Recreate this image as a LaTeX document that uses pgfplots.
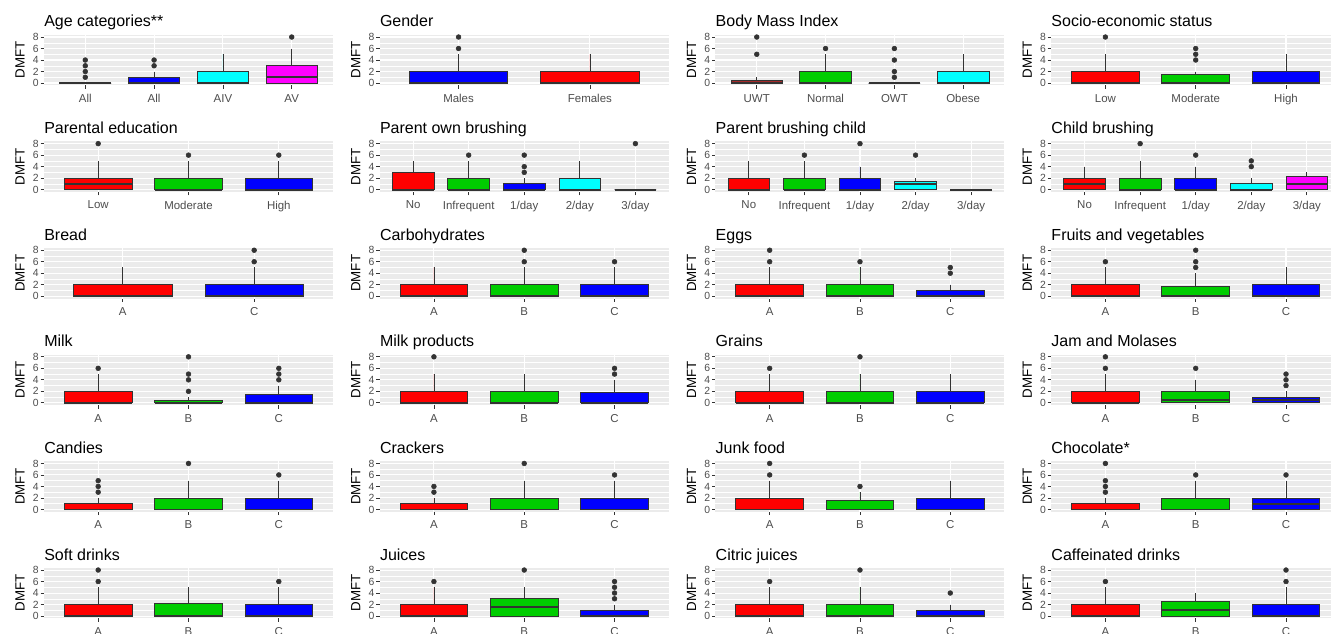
\documentclass[border=0pt]{standalone}
\usepackage{fontspec}
\setmainfont{Liberation Sans}
\usepackage{pgfplots}
\pgfplotsset{compat=1.18}
\usepgfplotslibrary{statistics}
\definecolor{gg20}{HTML}{333333}
\definecolor{gg30}{HTML}{4D4D4D}
\definecolor{ggbg}{HTML}{EBEBEB}
\definecolor{ggred}{HTML}{FF0000}
\definecolor{ggblue}{HTML}{0000FF}
\definecolor{ggcyan}{HTML}{00FFFF}
\definecolor{ggmag}{HTML}{FF00FF}
\definecolor{gggreen}{HTML}{00CD00}
\definecolor{ggbrown}{HTML}{A52A2A}
\pgfplotsset{gg/.style={
  scale only axis, width=216.75pt, height=37.95pt,
  anchor=south west,
  xmin=0.4, ymin=-0.4, ymax=8.4,
  ytick={0,2,4,6,8}, minor ytick={1,3,5,7},
  grid=both,
  major grid style={white, line width=0.8pt},
  minor grid style={white, line width=0.4pt},
  axis background/.style={fill=ggbg},
  axis line style={draw=none},
  tick pos=left, tick align=outside,
  major tick length=2.6pt, minor tick length=0pt,
  tick style={gg20, line width=0.6pt},
  /pgf/number format/assume math mode=true,
  yticklabel style={font=\fontsize{7.8}{8}\selectfont, text=gg30, inner sep=1.2pt},
  xticklabel style={font=\fontsize{8.6}{10}\selectfont, text=gg30, inner sep=1.5pt, yshift=-2.5pt},
  every axis title/.style={at={(0,1)}, anchor=base west, yshift=5.8pt, inner xsep=0pt, font=\fontsize{12}{14}\selectfont},
  ylabel=DMFT,
  every axis y label/.style={at={(axis description cs:-0.083,0.5)}, rotate=90, anchor=center, font=\fontsize{10}{12}\selectfont},
  boxplot/draw direction=y,
  boxplot/box extend=0.75,
  boxplot/whisker extend=0,
  boxplot/every median/.style={line width=1.4pt},
}}
\newcommand{\panel}[6]{%
\begin{axis}[gg, at={(33pt+251.8pt*#1,-64pt-79.95pt*#2)}, title={#3}, xmax=#4.6, xtick={1,...,#4}, xticklabels={#5}]
#6
\end{axis}}
\newcommand{\bx}[6]{\addplot[draw=gg20, line width=0.6pt, fill=#2, boxplot prepared={draw position=#1, lower whisker=0, lower quartile=#3, median=#4, upper quartile=#5, upper whisker=#6}] coordinates {};}
\newcommand{\ol}[1]{\addplot[only marks, mark=*, mark size=1.8pt, color=gg20] coordinates {#1};}
\begin{document}
\begin{tikzpicture}
% Row 0
\panel{0}{0}{Age categories**}{4}{All,All,AIV,AV}{
\bx{1}{ggred}{0}{0}{0}{0} \ol{(1,1)(1,2)(1,3)(1,4)}
\bx{2}{ggblue}{0}{0}{1}{2} \ol{(2,3)(2,4)}
\bx{3}{ggcyan}{0}{0}{2}{5}
\bx{4}{ggmag}{0}{1}{3}{6} \ol{(4,8)}
}
\panel{1}{0}{Gender}{2}{Males,Females}{
\bx{1}{ggblue}{0}{0}{2}{5} \ol{(1,6)(1,8)}
\bx{2}{ggred}{0}{0}{2}{5}
}
\panel{2}{0}{Body Mass Index}{4}{UWT,Normal,OWT,Obese}{
\bx{1}{ggbrown}{0}{0}{0.5}{1} \ol{(1,5)(1,8)}
\bx{2}{gggreen}{0}{0}{2}{5} \ol{(2,6)}
\bx{3}{ggblue}{0}{0}{0}{0} \ol{(3,1)(3,2)(3,4)(3,6)}
\bx{4}{ggcyan}{0}{0}{2}{5}
}
\panel{3}{0}{Socio-economic status}{3}{Low,Moderate,High}{
\bx{1}{ggred}{0}{0}{2}{5} \ol{(1,8)}
\bx{2}{gggreen}{0}{0}{1.5}{2} \ol{(2,4)(2,5)(2,6)}
\bx{3}{ggblue}{0}{0}{2}{5}
}
% Row 1
\panel{0}{1}{Parental education}{3}{Low,Moderate,High}{
\bx{1}{ggred}{0}{1}{2}{5} \ol{(1,8)}
\bx{2}{gggreen}{0}{0}{2}{5} \ol{(2,6)}
\bx{3}{ggblue}{0}{0}{2}{5} \ol{(3,6)}
}
\panel{1}{1}{Parent own brushing}{5}{No,Infrequent,1/day,2/day,3/day}{
\bx{1}{ggred}{0}{0}{3}{5}
\bx{2}{gggreen}{0}{0}{2}{5} \ol{(2,6)}
\bx{3}{ggblue}{0}{0}{1}{2} \ol{(3,3)(3,4)(3,6)}
\bx{4}{ggcyan}{0}{0}{2}{5}
\bx{5}{ggmag}{0}{0}{0}{0} \ol{(5,8)}
}
\panel{2}{1}{Parent brushing child}{5}{No,Infrequent,1/day,2/day,3/day}{
\bx{1}{ggred}{0}{0}{2}{5}
\bx{2}{gggreen}{0}{0}{2}{5} \ol{(2,6)}
\bx{3}{ggblue}{0}{0}{2}{4} \ol{(3,8)}
\bx{4}{ggcyan}{0}{1}{1.5}{2} \ol{(4,6)}
\bx{5}{ggmag}{0}{0}{0}{0}
}
\panel{3}{1}{Child brushing}{5}{No,Infrequent,1/day,2/day,3/day}{
\bx{1}{ggred}{0}{1}{2}{4}
\bx{2}{gggreen}{0}{0}{2}{5} \ol{(2,8)}
\bx{3}{ggblue}{0}{0}{2}{4} \ol{(3,6)}
\bx{4}{ggcyan}{0}{0}{1}{2} \ol{(4,4)(4,5)}
\bx{5}{ggmag}{0}{1}{2.25}{3}
}
% Row 2
\panel{0}{2}{Bread}{2}{A,C}{
\bx{1}{ggred}{0}{0}{2}{5}
\bx{2}{ggblue}{0}{0}{2}{5} \ol{(2,6)(2,8)}
}
\panel{1}{2}{Carbohydrates}{3}{A,B,C}{
\bx{1}{ggred}{0}{0}{2}{5}
\bx{2}{gggreen}{0}{0}{2}{5} \ol{(2,6)(2,8)}
\bx{3}{ggblue}{0}{0}{2}{5} \ol{(3,6)}
}
\panel{2}{2}{Eggs}{3}{A,B,C}{
\bx{1}{ggred}{0}{0}{2}{5} \ol{(1,6)(1,8)}
\bx{2}{gggreen}{0}{0}{2}{5} \ol{(2,6)}
\bx{3}{ggblue}{0}{0}{1}{2} \ol{(3,4)(3,5)}
}
\panel{3}{2}{Fruits and vegetables}{3}{A,B,C}{
\bx{1}{ggred}{0}{0}{2}{5} \ol{(1,6)}
\bx{2}{gggreen}{0}{0}{1.75}{4} \ol{(2,5)(2,6)(2,8)}
\bx{3}{ggblue}{0}{0}{2}{5}
}
% Row 3
\panel{0}{3}{Milk}{3}{A,B,C}{
\bx{1}{ggred}{0}{0}{2}{5} \ol{(1,6)}
\bx{2}{gggreen}{0}{0}{0.5}{1} \ol{(2,2)(2,4)(2,5)(2,8)}
\bx{3}{ggblue}{0}{0}{1.5}{3} \ol{(3,4)(3,5)(3,6)}
}
\panel{1}{3}{Milk products}{3}{A,B,C}{
\bx{1}{ggred}{0}{0}{2}{5} \ol{(1,8)}
\bx{2}{gggreen}{0}{0}{2}{5}
\bx{3}{ggblue}{0}{0}{1.75}{4} \ol{(3,5)(3,6)}
}
\panel{2}{3}{Grains}{3}{A,B,C}{
\bx{1}{ggred}{0}{0}{2}{5} \ol{(1,6)}
\bx{2}{gggreen}{0}{0}{2}{5} \ol{(2,8)}
\bx{3}{ggblue}{0}{0}{2}{5}
}
\panel{3}{3}{Jam and Molases}{3}{A,B,C}{
\bx{1}{ggred}{0}{0}{2}{5} \ol{(1,6)(1,8)}
\bx{2}{gggreen}{0}{0.5}{2}{4} \ol{(2,6)}
\bx{3}{ggblue}{0}{0.5}{1}{2} \ol{(3,3)(3,4)(3,5)}
}
% Row 4
\panel{0}{4}{Candies}{3}{A,B,C}{
\bx{1}{ggred}{0}{0}{1}{2} \ol{(1,3)(1,4)(1,5)}
\bx{2}{gggreen}{0}{0}{2}{5} \ol{(2,8)}
\bx{3}{ggblue}{0}{0}{2}{5} \ol{(3,6)}
}
\panel{1}{4}{Crackers}{3}{A,B,C}{
\bx{1}{ggred}{0}{0}{1}{2} \ol{(1,3)(1,4)}
\bx{2}{gggreen}{0}{0}{2}{5} \ol{(2,8)}
\bx{3}{ggblue}{0}{0}{2}{5} \ol{(3,6)}
}
\panel{2}{4}{Junk food}{3}{A,B,C}{
\bx{1}{ggred}{0}{0}{2}{5} \ol{(1,6)(1,8)}
\bx{2}{gggreen}{0}{0}{1.5}{3} \ol{(2,4)}
\bx{3}{ggblue}{0}{0}{2}{5}
}
\panel{3}{4}{Chocolate*}{3}{A,B,C}{
\bx{1}{ggred}{0}{0}{1}{2} \ol{(1,3)(1,4)(1,5)(1,8)}
\bx{2}{gggreen}{0}{0}{2}{5} \ol{(2,6)}
\bx{3}{ggblue}{0}{1}{2}{5} \ol{(3,6)}
}
% Row 5
\panel{0}{5}{Soft drinks}{3}{A,B,C}{
\bx{1}{ggred}{0}{0}{2}{5} \ol{(1,6)(1,8)}
\bx{2}{gggreen}{0}{0}{2.25}{5}
\bx{3}{ggblue}{0}{0}{2}{5} \ol{(3,6)}
}
\panel{1}{5}{Juices}{3}{A,B,C}{
\bx{1}{ggred}{0}{0}{2}{5} \ol{(1,6)}
\bx{2}{gggreen}{0}{1.5}{3}{5} \ol{(2,8)}
\bx{3}{ggblue}{0}{0}{1}{2} \ol{(3,3)(3,4)(3,5)(3,6)}
}
\panel{2}{5}{Citric juices}{3}{A,B,C}{
\bx{1}{ggred}{0}{0}{2}{5} \ol{(1,6)}
\bx{2}{gggreen}{0}{0}{2}{5} \ol{(2,8)}
\bx{3}{ggblue}{0}{0}{1}{2} \ol{(3,4)}
}
\panel{3}{5}{Caffeinated drinks}{3}{A,B,C}{
\bx{1}{ggred}{0}{0}{2}{5} \ol{(1,6)}
\bx{2}{gggreen}{0}{1}{2.5}{4}
\bx{3}{ggblue}{0}{0}{2}{5} \ol{(3,6)(3,8)}
}
\pgfresetboundingbox
\path[use as bounding box] (0,0) rectangle (998.25pt,-475.5pt);
\end{tikzpicture}
\end{document}
